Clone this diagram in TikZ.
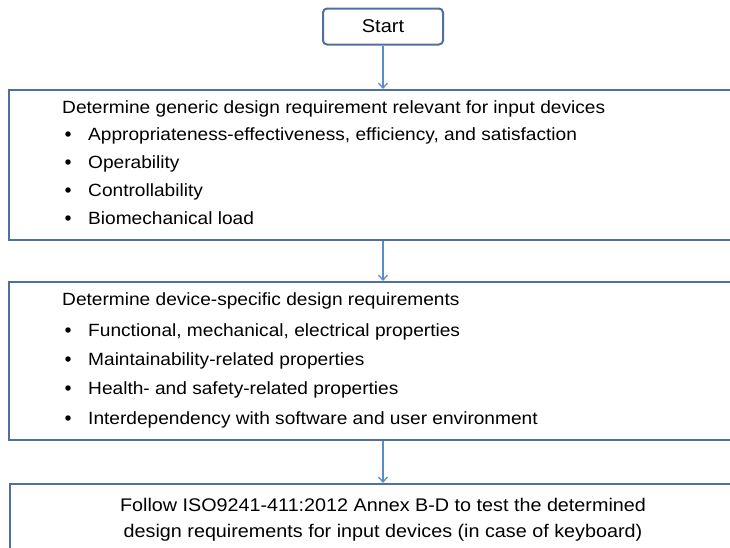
\documentclass[tikz,border=0pt]{standalone}
\usepackage{fontspec}
\setmainfont{Liberation Sans}[FakeStretch=1.08]
\usetikzlibrary{arrows.meta}
\definecolor{boxblue}{RGB}{79,111,160}
\definecolor{arrowblue}{RGB}{91,139,201}
\begin{document}
\begin{tikzpicture}[x=1pt,y=-1pt,
  frame/.style={draw=boxblue,line width=2pt,rectangle,inner sep=0pt,anchor=north west},
  txt/.style={anchor=base west,inner sep=0pt,font=\fontsize{17.7}{21}\selectfont},
  bul/.style={circle,fill=black,inner sep=0pt,minimum size=5.5pt},
  ctr/.style={anchor=base,inner sep=0pt,font=\fontsize{18.3}{21}\selectfont},
  flow/.style={draw=arrowblue,line width=1.3pt,-{Straight Barb[length=5pt,width=9pt]}}]
\useasboundingbox (0,0) rectangle (730,547);
\clip (0,0) rectangle (730,547);
\node[frame,rounded corners=4pt,minimum width=120pt,minimum height=36pt,anchor=center,font=\fontsize{18.5}{21}\selectfont] (start) at (383,26.5) {Start};
\node[frame,minimum width=740pt,minimum height=150pt] (b1) at (8,89) {};
\node[frame,minimum width=740pt,minimum height=158pt] (b2) at (8,281) {};
\node[frame,minimum width=740pt,minimum height=90pt] (b3) at (9,483) {};
% box 1
\node[txt] (h1) at (62,113) {Determine generic design requirement relevant for input devices};
\node[bul] (p1) at (68,134) {}; \node[txt] (t1) at (88,140) {Appropriateness-effectiveness, efficiency, and satisfaction};
\node[bul] (p2) at (68,162) {}; \node[txt] (t2) at (88,168) {Operability};
\node[bul] (p3) at (68,190) {}; \node[txt] (t3) at (88,196) {Controllability};
\node[bul] (p4) at (68,218) {}; \node[txt] (t4) at (88,224) {Biomechanical load};
% box 2
\node[txt] (h2) at (62,305) {Determine device-specific design requirements};
\node[bul] (q1) at (68,330) {}; \node[txt] (s1) at (88,336) {Functional, mechanical, electrical properties};
\node[bul] (q2) at (68,359) {}; \node[txt] (s2) at (88,365) {Maintainability-related properties};
\node[bul] (q3) at (68,388) {}; \node[txt] (s3) at (88,394) {Health- and safety-related properties};
\node[bul] (q4) at (68,418) {}; \node[txt] (s4) at (88,424) {Interdependency with software and user environment};
% box 3
\node[ctr] (f1) at (383,511) {Follow ISO9241-411:2012 Annex B-D to test the determined};
\node[ctr] (f2) at (383,537) {design requirements for input devices (in case of keyboard)};
% arrows
\draw[flow] (start.south) -- (start.south |- b1.north);
\draw[flow] (start.south |- b1.south) -- (start.south |- b2.north);
\draw[flow] (start.south |- b2.south) -- (start.south |- b3.north);
\end{tikzpicture}
\end{document}
